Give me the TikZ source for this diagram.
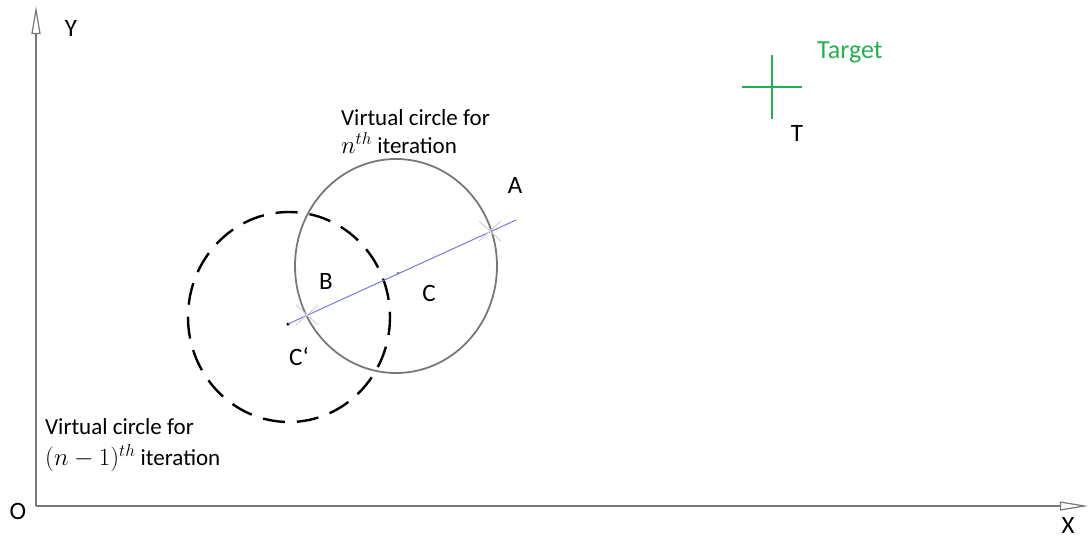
\documentclass[tikz,border=0pt]{standalone}
\usepackage{fontspec}
\setmainfont{Carlito}
\usetikzlibrary{arrows.meta}
\definecolor{tgreen}{RGB}{34,177,76}
\definecolor{axisgray}{RGB}{120,120,120}
\definecolor{lineblue}{RGB}{120,120,230}
\tikzset{
  axis/.style={draw=axisgray, line width=1.6pt, -{Triangle[open, length=28pt, width=9pt, line width=1.2pt]}},
  lbl/.style={font=\fontsize{25}{28}\selectfont, inner sep=0pt},
  txt/.style={font=\fontsize{23}{28}\selectfont, inner sep=0pt, align=left, anchor=north west},
  xmark/.style={draw=gray!35, line width=1pt},
  dotp/.style={circle, fill=black, inner sep=0pt, minimum size=3.5pt}
}
\begin{document}
\begin{tikzpicture}[x=1pt,y=-1pt]
\useasboundingbox (0,0) rectangle (1092,539);
% axes
\coordinate (O) at (36,506);
\coordinate (Ytop) at (36,6);
\coordinate (Xend) at (1088,506);
\draw[axis] (O) -- (Ytop);
\draw[axis] (O) -- (Xend);
\node[lbl] (ylab) at (71,28) {Y};
\node[lbl] (olab) at (18,511) {O};
\node[lbl] (xlab) at (1068,525) {X};
% circles
\draw[axisgray, line width=1.8pt] (396,266) ellipse [x radius=101, y radius=107];
\draw[black, line width=2.4pt, dash pattern=on 22pt off 12pt, dash phase=4pt] (289,317) ellipse [x radius=101, y radius=105];
% points
\node[dotp] (Cp) at (288,324) {};
\node[circle, fill=gray, inner sep=0pt, minimum size=3pt] (C) at (398,273) {};
\coordinate (Aend) at (516,220);
\coordinate (A) at (490,231);
\coordinate (B) at (307,315);
\draw[lineblue, line width=1pt] (Cp.center) -- (Aend);
\foreach \p in {A,B}{
  \draw[xmark] ([shift={(-11,-10)}]\p) -- ([shift={(11,10)}]\p);
  \draw[xmark] ([shift={(-11,10)}]\p) -- ([shift={(11,-10)}]\p);
}
\node[lbl] (alab) at (515,185) {A};
\node[lbl] (blab) at (326,281) {B};
\node[lbl] (clab) at (429,293) {C};
\node[lbl] (cplab) at (299,357) {C\symbol{96}};
% target
\coordinate (T) at (772,87);
\draw[tgreen, line width=2.6pt] ([xshift=-30]T) -- ([xshift=30]T);
\draw[tgreen, line width=2.6pt] ([yshift=-32]T) -- ([yshift=32]T);
\node[lbl] (tlab) at (797,133) {T};
\node[lbl, text=tgreen, anchor=west, font=\fontsize{26}{28}\selectfont] (target) at (817,52) {Target};
% texts
\node[txt] (ntext) at (341,109) {Virtual circle for\\$n^{th}$ iteration};
\node[txt, font=\fontsize{23}{31}\selectfont] (n1text) at (45,418) {Virtual circle for\\$(n-1)^{th}$ iteration};
\end{tikzpicture}
\end{document}
